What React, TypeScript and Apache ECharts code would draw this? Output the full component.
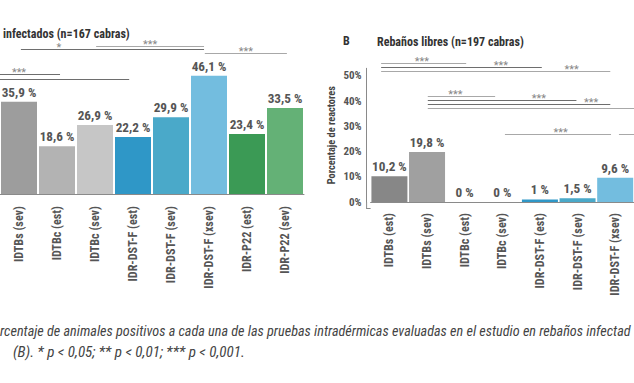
import React, { useEffect, useRef } from 'react';
import * as echarts from 'echarts';

const leftCategories = ['IDTBs (sev)', 'IDTBc (est)', 'IDTBc (sev)', 'IDR-DST-F (est)', 'IDR-DST-F (sev)', 'IDR-DST-F (xsev)', 'IDR-P22 (est)', 'IDR-P22 (sev)'];
const leftValues = [35.9, 18.6, 26.9, 22.2, 29.9, 46.1, 23.4, 33.5];
const leftColors = ['#9d9d9d', '#b3b3b3', '#c6c6c6', '#2f97c7', '#4aa9c9', '#73bddf', '#3b9a55', '#64b176'];

const rightCategories = ['IDTBs (est)', 'IDTBs (sev)', 'IDTBc (est)', 'IDTBc (sev)', 'IDR-DST-F (est)', 'IDR-DST-F (sev)', 'IDR-DST-F (xsev)'];
const rightValues = [10.2, 19.8, 0, 0, 1, 1.5, 9.6];
const rightColors = ['#878787', '#a0a0a0', '#b3b3b3', '#c6c6c6', '#2f97c7', '#4aa9c9', '#73bddf'];
const rightTickLabels = [0, 10, 20, 30, 40, 50];

// significance brackets: from index, to index, level (%), label, label position (index), dark line
const leftBrackets: [number, number, number, string, number, boolean][] = [
  [2.03, 4.87, 57.8, '***', 3.45, false],
  [0.05, 4.87, 56.4, '*', 1.05, true],
  [4.89, 7.05, 55.1, '***', 5.97, false],
  [-1, 1.08, 46.8, '***', 0.0, true],
  [-1, 2.9, 44.9, '', 0, true],
];
const rightBrackets: [number, number, number, string, number, boolean][] = [
  [-0.22, 2.04, 55.0, '***', 0.86, false],
  [-0.22, 4.05, 53.4, '***', 2.96, true],
  [-0.22, 5.87, 51.9, '***', 4.84, false],
  [1.02, 2.81, 42.2, '***', 1.75, false],
  [1.02, 4.97, 40.4, '***', 3.97, true],
  [1.02, 5.87, 38.8, '***', 5.36, true],
  [1.02, 7.5, 37.2, '', 0, false],
  [3.07, 5.89, 26.9, '***', 4.55, false],
  [6.1, 8.0, 26.9, '', 0, false],
];

const leftTitle = 'infectados (n=167 cabras)';
const rightLetter = 'B';
const rightTitle = 'Rebaños libres (n=197 cabras)';
const yAxisTitle = 'Porcentaje de reactores';
const caption1 = 'rcentaje de animales positivos a cada una de las pruebas intradérmicas evaluadas en el estudio en rebaños infectad';
const caption2 = '(B). * p < 0,05; ** p < 0,01; *** p < 0,001.';

const FONT = "'Liberation Sans Narrow', 'Roboto Condensed', 'Open Sans Condensed', 'DejaVu Sans Condensed', 'Noto Sans', sans-serif";

const fmt = (v: number) => String(v).replace('.', ',') + ' %';

let ctx2d: CanvasRenderingContext2D | null = null;
const measure = (text: string, font: string) => {
  if (!ctx2d) ctx2d = document.createElement('canvas').getContext('2d');
  if (!ctx2d) return text.length * 6;
  ctx2d.font = font;
  return ctx2d.measureText(text).width;
};
// font size at which `text` is `target` px wide
const fitSize = (text: string, target: number, weight: string) =>
  Math.round((20 * target) / measure(text, `${weight} 20px ${FONT}`) * 10) / 10;

export default function App() {
  const ref = useRef<HTMLDivElement>(null);
  useEffect(() => {
    if (!ref.current) return;
    const chart = echarts.init(ref.current, null, { renderer: 'svg' });
    const xLabelSize = Math.min(12.5, fitSize('IDR-DST-F (xsev)', 80, 'bold') * 1.03);
    const valueSize = Math.min(13.5, fitSize('46,1 %', 33, 'bold') * 1.05);
    const yTickSize = Math.min(11, fitSize('50%', 18, 'bold') * 1.05);
    const yTitleSize = Math.min(11.5, fitSize(yAxisTitle, 98, 'bold'));

    const labelStyle = {
      show: true,
      position: 'top',
      distance: 3,
      fontFamily: FONT,
      fontWeight: 'bold',
      fontSize: valueSize,
      color: '#555',
      formatter: (p: any) => fmt(p.value),
    };
    const xLabel = {
      rotate: 90,
      interval: 0,
      fontFamily: FONT,
      fontWeight: 'bold',
      fontSize: xLabelSize,
      color: '#555',
      margin: 5,
    };
    chart.setOption({
      animation: false,
      textStyle: { fontFamily: FONT },
      grid: [
        { left: 0, right: 330, top: 40, bottom: 189 },
        { left: 370.6, right: -2, top: 68.3, bottom: 181 },
      ],
      xAxis: [
        {
          type: 'category', gridIndex: 0, data: leftCategories, offset: 7,
          axisLine: { lineStyle: { color: '#8a8a8a', width: 1 } },
          axisTick: { show: false }, axisLabel: xLabel,
        },
        {
          type: 'category', gridIndex: 1, data: rightCategories, offset: 6,
          axisLine: { lineStyle: { color: '#8a8a8a', width: 1 } },
          axisTick: { show: false }, axisLabel: xLabel,
        },
      ],
      yAxis: [
        { type: 'value', gridIndex: 0, min: 0, max: 60, show: false },
        {
          type: 'value', gridIndex: 1, min: 0, max: 53, interval: 10, offset: 4,
          axisLine: { show: true, lineStyle: { color: '#8a8a8a', width: 1 } },
          axisTick: { show: false }, splitLine: { show: false },
          axisLabel: {
            fontFamily: FONT, fontWeight: 'bold', fontSize: yTickSize, color: '#555', margin: 5,
            formatter: (v: number) => (rightTickLabels.includes(v) ? v + '%' : ''),
          },
          name: yAxisTitle, nameLocation: 'middle', nameRotate: 90, nameGap: 30,
          nameTextStyle: { fontFamily: FONT, fontWeight: 'bold', fontSize: yTitleSize, color: '#444' },
        },
      ],
      series: [
        {
          type: 'bar', xAxisIndex: 0, yAxisIndex: 0, barWidth: 36,
          data: leftValues.map((v, i) => ({ value: v, itemStyle: { color: leftColors[i] } })),
          label: labelStyle,
        },
        {
          type: 'bar', xAxisIndex: 1, yAxisIndex: 1, barWidth: 36,
          data: rightValues.map((v, i) => ({ value: v, itemStyle: { color: rightColors[i] } })),
          label: labelStyle,
        },
      ],
    });

    const graphics: any[] = [];
    const addBrackets = (k: number, list: [number, number, number, string, number, boolean][]) => {
      const x0 = chart.convertToPixel({ xAxisIndex: k }, 0) as number;
      const x1 = chart.convertToPixel({ xAxisIndex: k }, 1) as number;
      const y0 = chart.convertToPixel({ yAxisIndex: k }, 0) as number;
      const y10 = chart.convertToPixel({ yAxisIndex: k }, 10) as number;
      const px = (i: number) => x0 + (x1 - x0) * i;
      const py = (v: number) => y0 + ((y10 - y0) / 10) * v;
      list.forEach(([a, b, lvl, lab, at, dark]) => {
        const y = Math.round(py(lvl)) + 0.5;
        graphics.push({
          type: 'line', silent: true,
          shape: { x1: px(a), y1: y, x2: px(b), y2: y },
          style: { stroke: dark ? '#6e6e6e' : '#a8a8a8', lineWidth: 1 },
        });
        if (lab) {
          graphics.push({
            type: 'text', silent: true, x: px(at), y: y + 3.5,
            style: { text: lab, fill: '#878787', fontSize: 11, fontFamily: FONT, align: 'center', verticalAlign: 'bottom' },
          });
        }
      });
    };
    addBrackets(0, leftBrackets);
    addBrackets(1, rightBrackets);

    // join the offset y axis line to the x axis line (L-shaped frame of panel B)
    const yAxisX = (chart.convertToPixel({ gridIndex: 1 }, [0, 0]) as number[]);
    const gridLeft = (chart.convertToPixel({ xAxisIndex: 1 }, 0) as number) - ((chart.convertToPixel({ xAxisIndex: 1 }, 1) as number) - (chart.convertToPixel({ xAxisIndex: 1 }, 0) as number)) / 2;
    const baseY = yAxisX[1] + 6.5;
    graphics.push({
      type: 'line', silent: true,
      shape: { x1: gridLeft - 4.5, y1: baseY, x2: gridLeft, y2: baseY },
      style: { stroke: '#8a8a8a', lineWidth: 1 },
    });
    graphics.push({
      type: 'line', silent: true,
      shape: { x1: gridLeft - 4, y1: yAxisX[1], x2: gridLeft - 4, y2: baseY },
      style: { stroke: '#8a8a8a', lineWidth: 1 },
    });

    const fitText = (text: string, x: number, y: number, size: number, weight: string, style: string, target: number, fill: string) => {
      const w = measure(text, `${style} ${weight} ${size}px ${FONT}`);
      return {
        type: 'text', x, y, scaleX: Math.min(1.2, target / w),
        style: { text, fill, fontSize: size, fontWeight: weight, fontStyle: style, fontFamily: FONT, verticalAlign: 'middle' },
      };
    };

    graphics.push(
      fitText(leftTitle, 3, 33, 13, 'bold', 'normal', 127, '#333'),
      { type: 'text', x: 343, y: 41, style: { text: rightLetter, fill: '#333', fontSize: 12, fontWeight: 'bold', fontFamily: FONT, verticalAlign: 'middle' } },
      fitText(rightTitle, 377, 41, 13, 'bold', 'normal', 147, '#333'),
      fitText(caption1, 0, 331, 14, 'normal', 'italic', 631, '#444'),
      fitText(caption2, 13, 353, 14, 'normal', 'italic', 232, '#444'),
    );
    chart.setOption({ graphic: graphics });

    return () => chart.dispose();
  }, []);
  return <div ref={ref} style={{ position: 'fixed', left: 0, top: 0, width: 634, height: 383, background: '#fff' }} />;
}
